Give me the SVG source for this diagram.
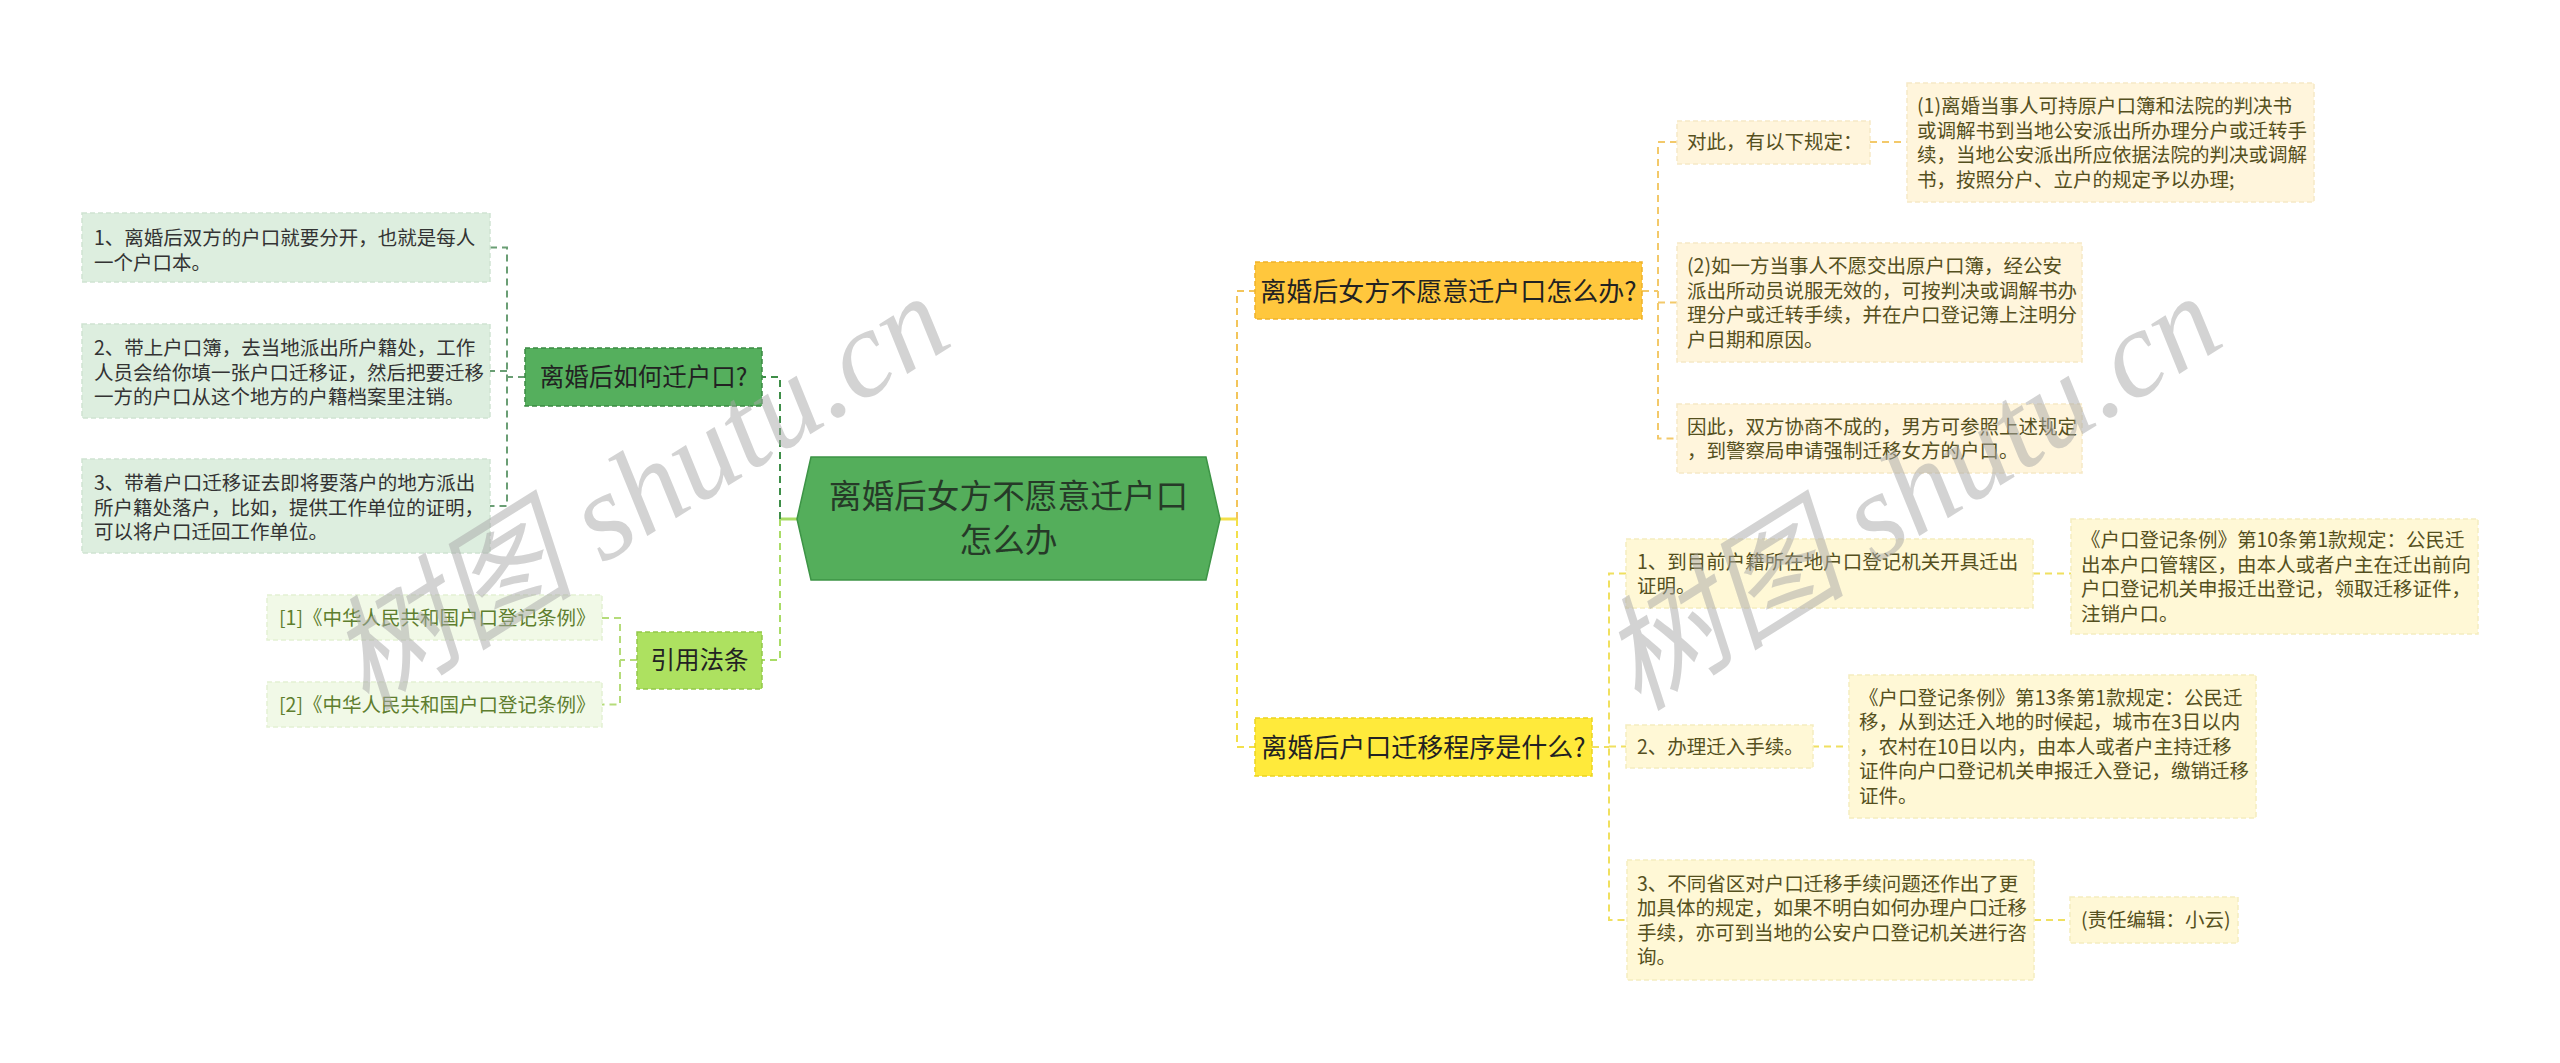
<svg xmlns="http://www.w3.org/2000/svg" width="2560" height="1063" viewBox="0 0 2560 1063">
<style>
text { font-family: "Noto Sans CJK SC", "Noto Sans", sans-serif; }
.s { font-size: 19.5px; }
.m { font-size: 24.5px; fill: #222; }
.b { font-size: 26px; fill: #222; }
.c { font-size: 32.7px; fill: #263a28; }
.bx { stroke-width: 1.5; stroke-dasharray: 5 3; }
.lg { fill: #DDEEDF; stroke: #CFE4D2; }
.lgt { fill: #333; }
.ll { fill: #F1F9E7; stroke: #E4F1D4; }
.llt { fill: #5E7E2E; }
.lo { fill: #FFF5DC; stroke: #F6E9C6; }
.lot { fill: #55501E; }
.ly { fill: #FFF8D6; stroke: #F5EDC0; }
.lyt { fill: #55501E; }
.cn { fill: none; stroke-width: 2; stroke-dasharray: 7 5; }
.sol { fill: none; stroke-width: 3; }
.wm { font-family: "Liberation Serif", "Noto Sans CJK SC", serif; font-style: italic; font-size: 124px; fill: #a8a8a8; opacity: 0.5; }
</style>

<g id="connectors">
  <line class="sol" x1="797" y1="519" x2="780" y2="519" stroke="#A9DC66"/>
  <path class="cn" d="M780 519 V377 H762" stroke="#3E8E48"/>
  <path class="cn" d="M780 519 V660 H762" stroke="#A9DC66"/>
  <path class="cn" d="M525 377 H507" stroke="#6A9E74"/>
  <path class="cn" d="M490 247.5 H507 V506 H490" stroke="#6A9E74"/>
  <path class="cn" d="M507 371 H490" stroke="#6A9E74"/>
  <path class="cn" d="M637 660 H620" stroke="#B5DC7A"/>
  <path class="cn" d="M602 618 H620 V704.5 H602" stroke="#B5DC7A"/>
  <line class="sol" x1="1220" y1="519" x2="1237" y2="519" stroke="#F3E04A"/>
  <path class="cn" d="M1237 519 V291 H1255" stroke="#F3C55A"/>
  <path class="cn" d="M1237 519 V747 H1255" stroke="#F3E04A"/>
  <path class="cn" d="M1642 291 H1658" stroke="#F3C96A"/>
  <path class="cn" d="M1677 142 H1658 V438.5 H1677" stroke="#F3C96A"/>
  <path class="cn" d="M1658 302.5 H1677" stroke="#F3C96A"/>
  <path class="cn" d="M1870 142 H1907" stroke="#F3C96A"/>
  <path class="cn" d="M1592 747 H1609" stroke="#F0E060"/>
  <path class="cn" d="M1626 573.5 H1609 V920 H1627" stroke="#F0E060"/>
  <path class="cn" d="M1609 746.5 H1626" stroke="#F0E060"/>
  <path class="cn" d="M2033 573.5 H2071" stroke="#F0E060"/>
  <path class="cn" d="M1812 746.5 H1849" stroke="#F0E060"/>
  <path class="cn" d="M2034 920 H2070" stroke="#F0E060"/>
</g>

<g id="center">
  <polygon points="797,519 811,457 1206,457 1220,519 1206,580 811,580" fill="#54AE5B" stroke="#3D9446" stroke-width="1.5"/>
  <text class="c" text-anchor="middle"><tspan x="1008.5" y="508">离婚后女方不愿意迁户口</tspan><tspan x="1008.5" y="552">怎么办</tspan></text>
</g>

<g id="branch-move">
  <rect class="bx" x="525" y="348" width="237" height="58" fill="#55AF5D" stroke="#3B8A43"/>
  <text class="m" x="643.5" y="386" text-anchor="middle">离婚后如何迁户口?</text>
</g>
<g id="leaf-move-1">
  <rect class="bx lg" x="82" y="213" width="408" height="69"/>
  <text class="s lgt"><tspan x="94" y="245">1、离婚后双方的户口就要分开，也就是每人</tspan><tspan x="94" y="269.5">一个户口本。</tspan></text>
</g>
<g id="leaf-move-2">
  <rect class="bx lg" x="82" y="324" width="408" height="94"/>
  <text class="s lgt"><tspan x="94" y="355">2、带上户口簿，去当地派出所户籍处，工作</tspan><tspan x="94" y="379.5">人员会给你填一张户口迁移证，然后把要迁移</tspan><tspan x="94" y="404">一方的户口从这个地方的户籍档案里注销。</tspan></text>
</g>
<g id="leaf-move-3">
  <rect class="bx lg" x="82" y="459" width="408" height="94"/>
  <text class="s lgt"><tspan x="94" y="490">3、带着户口迁移证去即将要落户的地方派出</tspan><tspan x="94" y="514.5">所户籍处落户，比如，提供工作单位的证明，</tspan><tspan x="94" y="539">可以将户口迁回工作单位。</tspan></text>
</g>

<g id="branch-law">
  <rect class="bx" x="637" y="632" width="125" height="57" fill="#ADE160" stroke="#93C84A"/>
  <text class="m" x="699.5" y="669" text-anchor="middle">引用法条</text>
</g>
<g id="leaf-law-1">
  <rect class="bx ll" x="267" y="595" width="335" height="45"/>
  <text class="s llt" x="279" y="625">[1]《中华人民共和国户口登记条例》</text>
</g>
<g id="leaf-law-2">
  <rect class="bx ll" x="267" y="682" width="335" height="45"/>
  <text class="s llt" x="279" y="711.5">[2]《中华人民共和国户口登记条例》</text>
</g>

<g id="branch-refuse">
  <rect class="bx" x="1255" y="262" width="387" height="57" fill="#FFC73D" stroke="#F0B22A"/>
  <text class="b" x="1448.5" y="300.5" text-anchor="middle">离婚后女方不愿意迁户口怎么办?</text>
</g>
<g id="leaf-refuse-1">
  <rect class="bx lo" x="1677" y="121" width="193" height="43"/>
  <text class="s lot" x="1687" y="149">对此，有以下规定：</text>
</g>
<g id="leaf-refuse-1a">
  <rect class="bx lo" x="1907" y="83" width="407" height="119"/>
  <text class="s lot"><tspan x="1917" y="113">(1)离婚当事人可持原户口簿和法院的判决书</tspan><tspan x="1917" y="137.5">或调解书到当地公安派出所办理分户或迁转手</tspan><tspan x="1917" y="162">续，当地公安派出所应依据法院的判决或调解</tspan><tspan x="1917" y="186.5">书，按照分户、立户的规定予以办理;</tspan></text>
</g>
<g id="leaf-refuse-2">
  <rect class="bx lo" x="1677" y="243" width="405" height="119"/>
  <text class="s lot"><tspan x="1687" y="273">(2)如一方当事人不愿交出原户口簿，经公安</tspan><tspan x="1687" y="297.5">派出所动员说服无效的，可按判决或调解书办</tspan><tspan x="1687" y="322">理分户或迁转手续，并在户口登记簿上注明分</tspan><tspan x="1687" y="346.5">户日期和原因。</tspan></text>
</g>
<g id="leaf-refuse-3">
  <rect class="bx lo" x="1677" y="404" width="405" height="69"/>
  <text class="s lot"><tspan x="1687" y="433.5">因此，双方协商不成的，男方可参照上述规定</tspan><tspan x="1687" y="458">，到警察局申请强制迁移女方的户口。</tspan></text>
</g>

<g id="branch-procedure">
  <rect class="bx" x="1255" y="718" width="337" height="58" fill="#FFEA3B" stroke="#EBD321"/>
  <text class="b" x="1423.5" y="756.5" text-anchor="middle">离婚后户口迁移程序是什么?</text>
</g>
<g id="leaf-proc-1">
  <rect class="bx ly" x="1626" y="539" width="407" height="69"/>
  <text class="s lyt"><tspan x="1637" y="568.5">1、到目前户籍所在地户口登记机关开具迁出</tspan><tspan x="1637" y="593">证明。</tspan></text>
</g>
<g id="leaf-proc-1a">
  <rect class="bx ly" x="2071" y="519" width="407" height="115"/>
  <text class="s lyt"><tspan x="2081" y="547">《户口登记条例》第10条第1款规定：公民迁</tspan><tspan x="2081" y="571.5">出本户口管辖区，由本人或者户主在迁出前向</tspan><tspan x="2081" y="596">户口登记机关申报迁出登记，领取迁移证件，</tspan><tspan x="2081" y="620.5">注销户口。</tspan></text>
</g>
<g id="leaf-proc-2">
  <rect class="bx ly" x="1626" y="725" width="187" height="43"/>
  <text class="s lyt" x="1637" y="754">2、办理迁入手续。</text>
</g>
<g id="leaf-proc-2a">
  <rect class="bx ly" x="1849" y="675" width="407" height="143"/>
  <text class="s lyt"><tspan x="1859" y="704.5">《户口登记条例》第13条第1款规定：公民迁</tspan><tspan x="1859" y="729">移，从到达迁入地的时候起，城市在3日以内</tspan><tspan x="1859" y="753.5">，农村在10日以内，由本人或者户主持迁移</tspan><tspan x="1859" y="778">证件向户口登记机关申报迁入登记，缴销迁移</tspan><tspan x="1859" y="802.5">证件。</tspan></text>
</g>
<g id="leaf-proc-3">
  <rect class="bx ly" x="1627" y="860" width="407" height="120"/>
  <text class="s lyt"><tspan x="1637" y="890.5">3、不同省区对户口迁移手续问题还作出了更</tspan><tspan x="1637" y="915">加具体的规定，如果不明白如何办理户口迁移</tspan><tspan x="1637" y="939.5">手续，亦可到当地的公安户口登记机关进行咨</tspan><tspan x="1637" y="964">询。</tspan></text>
</g>
<g id="leaf-proc-3a">
  <rect class="bx ly" x="2070" y="897" width="168" height="46"/>
  <text class="s lyt" x="2081" y="927">(责任编辑：小云)</text>
</g>

<g id="watermark">
  <text class="wm" transform="translate(366 712) rotate(-32)">树图 shutu.cn</text>
  <text class="wm" transform="translate(1638 712) rotate(-32)">树图 shutu.cn</text>
</g>
</svg>
